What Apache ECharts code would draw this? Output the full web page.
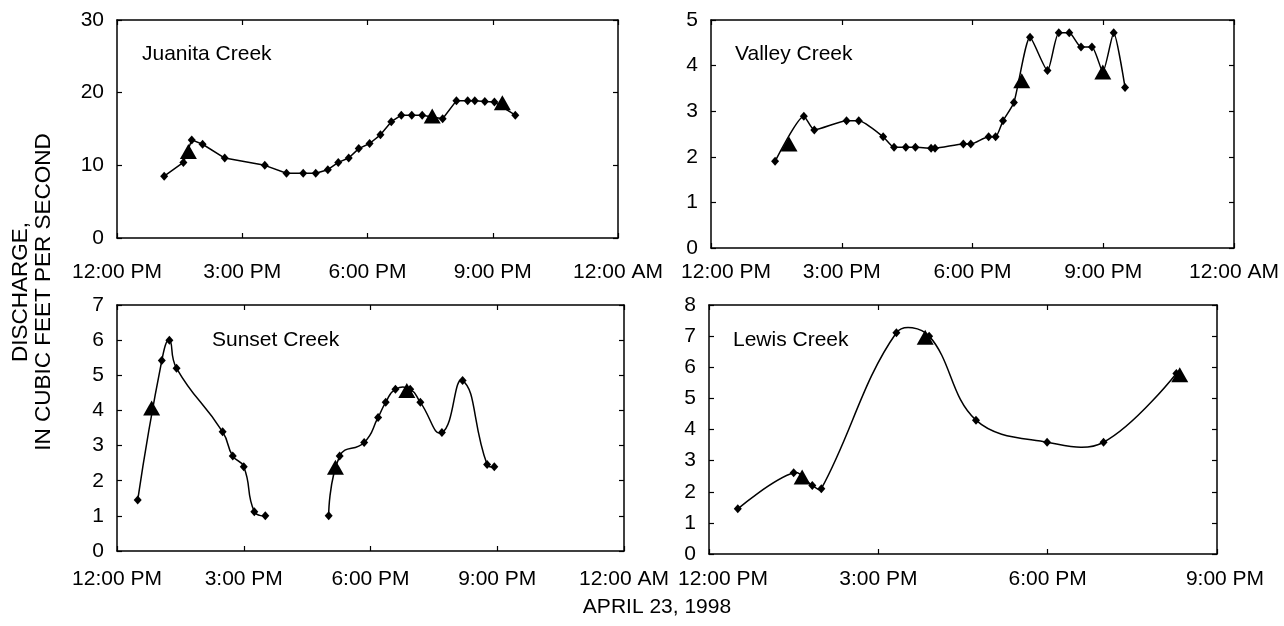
<!DOCTYPE html>
<html>
<head>
<meta charset="utf-8">
<script src="https://cdn.jsdelivr.net/npm/echarts@6/dist/echarts.min.js"></script>
<style>
  html, body { margin: 0; padding: 0; background: #fff; }
  #chart { width: 1284px; height: 626px; }
</style>
</head>
<body>
<div id="chart"></div>
<script>
// ---------- DATA (time in decimal hours of the day, discharge in ft3/s) ----------
const juanitaTimes = [13.13, 13.59, 13.79, 14.05, 14.58, 15.54, 16.06, 16.46, 16.76, 17.05, 17.30, 17.55, 17.79, 18.05, 18.31, 18.57, 18.81, 19.06, 19.31, 19.80, 20.13, 20.40, 20.57, 20.81, 21.04, 21.54];
const juanitaQ     = [8.5, 10.4, 13.5, 12.9, 11.0, 10.0, 8.9, 8.9, 8.9, 9.4, 10.4, 11.0, 12.3, 13.0, 14.2, 16.0, 16.9, 16.9, 16.9, 16.4, 18.9, 18.9, 18.9, 18.8, 18.7, 16.9];
const juanitaTriT  = [13.71, 19.55, 21.23];
const juanitaTriQ  = [11.9, 16.8, 18.6];

const valleyTimes = [13.47, 14.13, 14.37, 15.11, 15.39, 15.95, 16.20, 16.47, 16.69, 17.05, 17.14, 17.79, 17.96, 18.37, 18.53, 18.70, 18.95, 19.32, 19.72, 19.98, 20.22, 20.49, 20.74, 20.99, 21.24, 21.50];
const valleyQ     = [1.90, 2.89, 2.59, 2.79, 2.79, 2.44, 2.21, 2.21, 2.21, 2.19, 2.19, 2.28, 2.28, 2.44, 2.44, 2.79, 3.19, 4.62, 3.89, 4.72, 4.72, 4.41, 4.41, 3.86, 4.72, 3.52];
const valleyTriT  = [13.79, 19.13, 20.99];
const valleyTriQ  = [2.28, 3.67, 3.86];

const sunsetTimesA = [12.49, 13.06, 13.24, 13.41, 14.50, 14.74, 15.00, 15.25, 15.51];
const sunsetQA     = [1.45, 5.42, 6.0, 5.2, 3.39, 2.70, 2.40, 1.12, 1.0];
const sunsetTimesB = [17.01, 17.27, 17.85, 18.18, 18.36, 18.59, 18.94, 19.18, 19.69, 20.18, 20.76, 20.93];
const sunsetQB     = [1.0, 2.70, 3.09, 3.80, 4.23, 4.60, 4.60, 4.23, 3.37, 4.85, 2.46, 2.40];
const sunsetTriT   = [12.82, 17.17, 18.86];
const sunsetTriQ   = [4.07, 2.38, 4.57];

const lewisTimes = [12.51, 13.50, 13.83, 13.99, 15.32, 15.90, 16.73, 17.99, 18.99, 20.28];
const lewisQ     = [1.45, 2.61, 2.20, 2.10, 7.11, 7.0, 4.30, 3.59, 3.59, 5.8];
const lewisTriT  = [13.65, 15.83, 20.34];
const lewisTriQ  = [2.47, 6.96, 5.76];

const hourLabels = {12: '12:00 PM', 15: '3:00 PM', 18: '6:00 PM', 21: '9:00 PM', 24: '12:00 AM'};
const creekNames = ['Juanita Creek', 'Valley Creek', 'Sunset Creek', 'Lewis Creek'];
const yTitle = ['DISCHARGE,', 'IN CUBIC FEET PER SECOND'];
const xTitle = 'APRIL 23, 1998';

// ---------- HELPERS ----------
const FONT = '"Liberation Sans", Arial, Helvetica, sans-serif';
const pairs = (xs, ys) => xs.map((x, i) => [x, ys[i]]);

const grids = [
  {left: 117, top: 20,  width: 501, height: 218},
  {left: 711, top: 20,  width: 523, height: 228},
  {left: 117, top: 305, width: 507, height: 246},
  {left: 709, top: 305, width: 508, height: 249}
];
const xMax = [24, 24, 24, 21];
const yMax = [30, 5, 7, 8];
const yInt = [10, 1, 1, 1];
const xLabelMargin = [24, 14, 18, 15];
const firstShift = [0, 30, 0, 28];
const lastShift = [0, 0, 0, 16];

const tickStyle = {show: true, inside: true, length: 5, lineStyle: {color: '#000', width: 1.2}};
const lineAx = {show: true, onZero: false, lineStyle: {color: '#000', width: 1.5}};

const xAxes = [], yAxes = [];
grids.forEach((g, i) => {
  xAxes.push({
    type: 'value', gridIndex: i, min: 12, max: xMax[i], interval: 3, position: 'bottom',
    axisLine: lineAx, axisTick: tickStyle, splitLine: {show: false},
    axisLabel: {
      show: true, margin: xLabelMargin[i], color: '#000', fontFamily: FONT, fontSize: 21,
      formatter: v => {
        const t = hourLabels[v] || '';
        if (v === 12 && firstShift[i]) return '{f|' + t + '}';
        if (v === xMax[i] && lastShift[i]) return '{l|' + t + '}';
        return t;
      },
      rich: {
        f: {padding: [0, 0, 0, firstShift[i]], fontFamily: FONT, fontSize: 21, color: '#000'},
        l: {padding: [0, 0, 0, lastShift[i]], fontFamily: FONT, fontSize: 21, color: '#000'}
      }
    }
  });
  xAxes.push({
    type: 'value', gridIndex: i, min: 12, max: xMax[i], interval: 3, position: 'top',
    axisLine: lineAx, axisTick: tickStyle, axisLabel: {show: false}, splitLine: {show: false}
  });
  yAxes.push({
    type: 'value', gridIndex: i, min: 0, max: yMax[i], interval: yInt[i], position: 'left',
    axisLine: lineAx, axisTick: tickStyle, splitLine: {show: false},
    axisLabel: {show: true, margin: 13, color: '#000', fontFamily: FONT, fontSize: 21}
  });
  yAxes.push({
    type: 'value', gridIndex: i, min: 0, max: yMax[i], interval: yInt[i], position: 'right',
    axisLine: lineAx, axisTick: tickStyle, axisLabel: {show: false}, splitLine: {show: false}
  });
});

// straight or ECharts-smoothed line
function lineSeries(i, xs, ys, smooth) {
  return {
    type: 'line', xAxisIndex: 2 * i, yAxisIndex: 2 * i, data: pairs(xs, ys),
    smooth: smooth, symbol: 'diamond', symbolSize: [8, 9], showSymbol: true,
    lineStyle: {color: '#000', width: 1.5}, itemStyle: {color: '#000', opacity: 1},
    silent: true, animation: false, z: 2
  };
}
// freely curving spline (drawn through the axis coordinates of the data points)
function splineSeries(i, xs, ys, s) {
  return {
    type: 'custom', xAxisIndex: 2 * i, yAxisIndex: 2 * i, data: pairs(xs, ys),
    encode: {x: 0, y: 1}, silent: true, animation: false, z: 2, clip: false,
    renderItem: (params, api) => {
      if (params.dataIndex !== 0) return null;
      const P = xs.map((x, k) => api.coord([x, ys[k]]));
      const n = P.length;
      const cpIn = [], cpOut = [];
      for (let k = 0; k < n; k++) {
        if (k === 0 || k === n - 1) { cpIn.push(P[k]); cpOut.push(P[k]); continue; }
        const pv = P[k - 1], nx = P[k + 1], p = P[k];
        const vx = nx[0] - pv[0], vy = nx[1] - pv[1];
        const lp = Math.hypot(p[0] - pv[0], p[1] - pv[1]);
        const ln = Math.hypot(nx[0] - p[0], nx[1] - p[1]);
        const rn = ln / (lp + ln), rp = lp / (lp + ln);
        let ox = p[0] + vx * s * rn, oy = p[1] + vy * s * rn;
        let ix = p[0] - vx * s * rp, iy = p[1] - vy * s * rp;
        ox = Math.min(Math.max(ox, Math.min(p[0], nx[0])), Math.max(p[0], nx[0]));
        ix = Math.min(Math.max(ix, Math.min(p[0], pv[0])), Math.max(p[0], pv[0]));
        cpIn.push([ix, iy]); cpOut.push([ox, oy]);
      }
      const children = [];
      for (let k = 0; k < n - 1; k++) {
        children.push({
          type: 'bezierCurve',
          shape: {x1: P[k][0], y1: P[k][1], x2: P[k + 1][0], y2: P[k + 1][1],
                  cpx1: cpOut[k][0], cpy1: cpOut[k][1], cpx2: cpIn[k + 1][0], cpy2: cpIn[k + 1][1]},
          style: {stroke: '#000', lineWidth: 1.5, fill: null}
        });
      }
      return {type: 'group', children: children};
    }
  };
}
function dotSeries(i, xs, ys) {
  return {
    type: 'scatter', xAxisIndex: 2 * i, yAxisIndex: 2 * i, data: pairs(xs, ys),
    symbol: 'diamond', symbolSize: [8, 9], itemStyle: {color: '#000', opacity: 1},
    silent: true, animation: false, z: 3
  };
}
function triSeries(i, xs, ys) {
  return {
    type: 'scatter', xAxisIndex: 2 * i, yAxisIndex: 2 * i, data: pairs(xs, ys),
    symbol: 'triangle', symbolSize: [17, 15], itemStyle: {color: '#000', opacity: 1},
    silent: true, animation: false, z: 4
  };
}

const series = [
  lineSeries(0, juanitaTimes, juanitaQ, false),
  triSeries(0, juanitaTriT, juanitaTriQ),
  lineSeries(1, valleyTimes, valleyQ, 0.2),
  triSeries(1, valleyTriT, valleyTriQ),
  splineSeries(2, sunsetTimesA, sunsetQA, 0.5),
  dotSeries(2, sunsetTimesA, sunsetQA),
  splineSeries(2, sunsetTimesB, sunsetQB, 0.5),
  dotSeries(2, sunsetTimesB, sunsetQB),
  triSeries(2, sunsetTriT, sunsetTriQ),
  splineSeries(3, lewisTimes, lewisQ, 0.38),
  dotSeries(3, lewisTimes, lewisQ),
  triSeries(3, lewisTriT, lewisTriQ)
];

const namePos = [[142, 54], [735, 54], [212, 340], [733, 340]];
const graphics = creekNames.map((n, i) => ({
  type: 'text', x: namePos[i][0], y: namePos[i][1], silent: true,
  style: {text: n, font: '21px ' + FONT, fill: '#000', textAlign: 'left', textVerticalAlign: 'middle'}
}));
graphics.push({
  type: 'text', x: 32, y: 292, rotation: Math.PI / 2, silent: true,
  style: {text: yTitle.join('\n'), font: '22.5px ' + FONT, lineHeight: 23, fill: '#000', textAlign: 'center', textVerticalAlign: 'middle'}
});
graphics.push({
  type: 'text', x: 657, y: 607, silent: true,
  style: {text: xTitle, font: '21px ' + FONT, fill: '#000', textAlign: 'center', textVerticalAlign: 'middle'}
});

const chart = echarts.init(document.getElementById('chart'), null, {renderer: 'canvas'});
chart.setOption({
  animation: false,
  backgroundColor: '#fff',
  grid: grids.map(g => Object.assign({show: false, containLabel: false}, g)),
  xAxis: xAxes,
  yAxis: yAxes,
  series: series,
  graphic: graphics
});
</script>
</body>
</html>
